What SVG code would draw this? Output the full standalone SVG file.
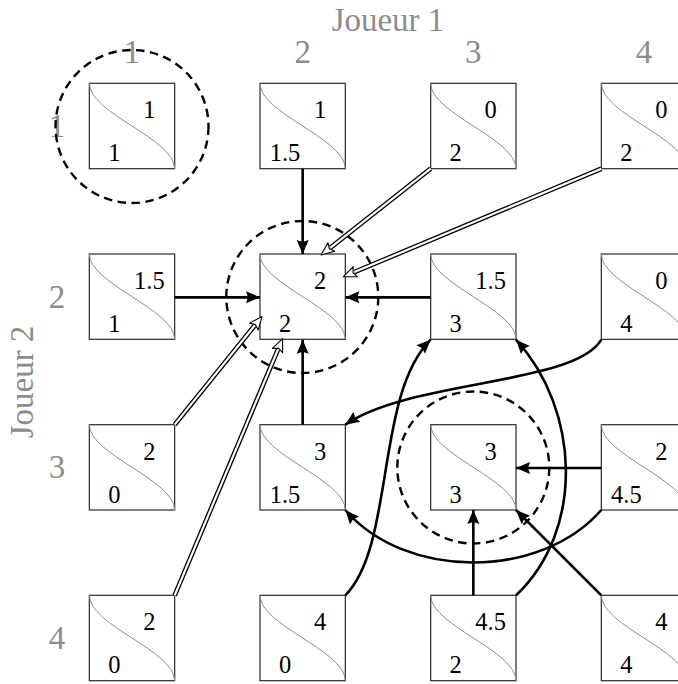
<svg xmlns="http://www.w3.org/2000/svg" xmlns:xlink="http://www.w3.org/1999/xlink" width="678" height="684" viewBox="0 0 678 684">
<style>
.box{fill:#fff;stroke:#3a3a3a;stroke-width:1.3}
.crv{fill:none;stroke:#8c8c8c;stroke-width:1}
text{font-family:'Liberation Serif','DejaVu Serif','Noto Serif',serif}
.pay{font-size:24.5px;fill:#000;text-anchor:middle}
.lbl{font-size:33px;fill:#8c8c8c;text-anchor:middle}
.arr{fill:none;stroke:#000;stroke-width:2.6;marker-end:url(#ah)}
.dblo{fill:none;stroke:#000;stroke-width:4.8}
.dbli{fill:none;stroke:#fff;stroke-width:2.2;marker-end:url(#hh)}
.ring{fill:none;stroke:#000;stroke-width:2.4;stroke-dasharray:8.5 5.5}
</style>
<defs>
<marker id="ah" markerUnits="userSpaceOnUse" markerWidth="18" markerHeight="14" refX="14" refY="6.5" orient="auto" overflow="visible">
<path d="M0,0.5 L14,6.5 L0,12.5 L2,6.5 Z" fill="#000"/>
</marker>
<marker id="hh" markerUnits="userSpaceOnUse" markerWidth="16" markerHeight="14" refX="1" refY="6.5" orient="auto" overflow="visible">
<path d="M0,1 L13,6.5 L0,12 L2.5,6.5 Z" fill="#fff" stroke="#000" stroke-width="1.1" stroke-linejoin="round"/>
</marker>
<g id="cell">
<rect class="box" x="0" y="0" width="85.33" height="85.33"/>
<path class="crv" d="M0,0 C0,30 85.33,55.33 85.33,85.33"/>
</g>
</defs>

<g id="labels" font-family="Liberation Serif, DejaVu Serif, serif">
<text class="lbl" x="388" y="30.5">Joueur 1</text>
<text class="lbl" x="132" y="62.5">1</text>
<text class="lbl" x="302.7" y="62.5">2</text>
<text class="lbl" x="473.3" y="62.5">3</text>
<text class="lbl" x="644" y="62.5">4</text>
<text class="lbl" x="57" y="136.5">1</text>
<text class="lbl" x="57" y="307.5">2</text>
<text class="lbl" x="57" y="478">3</text>
<text class="lbl" x="57" y="648.5">4</text>
<text class="lbl" transform="translate(33,382) rotate(-90)">Joueur 2</text>
</g>

<g id="nodes" font-family="Liberation Serif, DejaVu Serif, serif">
<g id="n11" transform="translate(89.33,83.33)"><use xlink:href="#cell"/><text class="pay" x="60" y="35">1</text><text class="pay" x="25" y="78">1</text></g>
<g id="n12" transform="translate(260,83.33)"><use xlink:href="#cell"/><text class="pay" x="60" y="35">1</text><text class="pay" x="25" y="78">1.5</text></g>
<g id="n13" transform="translate(430.67,83.33)"><use xlink:href="#cell"/><text class="pay" x="60" y="35">0</text><text class="pay" x="25" y="78">2</text></g>
<g id="n14" transform="translate(601.33,83.33)"><use xlink:href="#cell"/><text class="pay" x="60" y="35">0</text><text class="pay" x="25" y="78">2</text></g>

<g id="n21" transform="translate(89.33,254)"><use xlink:href="#cell"/><text class="pay" x="60" y="35">1.5</text><text class="pay" x="25" y="78">1</text></g>
<g id="n22" transform="translate(260,254)"><use xlink:href="#cell"/><text class="pay" x="60" y="35">2</text><text class="pay" x="25" y="78">2</text></g>
<g id="n23" transform="translate(430.67,254)"><use xlink:href="#cell"/><text class="pay" x="60" y="35">1.5</text><text class="pay" x="25" y="78">3</text></g>
<g id="n24" transform="translate(601.33,254)"><use xlink:href="#cell"/><text class="pay" x="60" y="35">0</text><text class="pay" x="25" y="78">4</text></g>

<g id="n31" transform="translate(89.33,424.67)"><use xlink:href="#cell"/><text class="pay" x="60" y="35">2</text><text class="pay" x="25" y="78">0</text></g>
<g id="n32" transform="translate(260,424.67)"><use xlink:href="#cell"/><text class="pay" x="60" y="35">3</text><text class="pay" x="25" y="78">1.5</text></g>
<g id="n33" transform="translate(430.67,424.67)"><use xlink:href="#cell"/><text class="pay" x="60" y="35">3</text><text class="pay" x="25" y="78">3</text></g>
<g id="n34" transform="translate(601.33,424.67)"><use xlink:href="#cell"/><text class="pay" x="60" y="35">2</text><text class="pay" x="25" y="78">4.5</text></g>

<g id="n41" transform="translate(89.33,595.33)"><use xlink:href="#cell"/><text class="pay" x="60" y="35">2</text><text class="pay" x="25" y="78">0</text></g>
<g id="n42" transform="translate(260,595.33)"><use xlink:href="#cell"/><text class="pay" x="60" y="35">4</text><text class="pay" x="25" y="78">0</text></g>
<g id="n43" transform="translate(430.67,595.33)"><use xlink:href="#cell"/><text class="pay" x="60" y="35">4.5</text><text class="pay" x="25" y="78">2</text></g>
<g id="n44" transform="translate(601.33,595.33)"><use xlink:href="#cell"/><text class="pay" x="60" y="35">4</text><text class="pay" x="25" y="78">4</text></g>
</g>

<g id="equilibria">
<circle class="ring" cx="132" cy="126.5" r="76.5"/>
<circle class="ring" cx="302.3" cy="297" r="76"/>
<circle class="ring" cx="473.3" cy="467.5" r="76"/>
</g>

<g id="connectors">
<path class="arr" d="M302.67,168.67 L302.67,254"/>
<path class="arr" d="M174.67,297.33 L260,297.33"/>
<path class="arr" d="M430.67,297.33 L345.33,297.33"/>
<path class="arr" d="M302.67,424.67 L302.67,339.67"/>
<path class="arr" d="M601.33,468 L516,468"/>
<path class="arr" d="M473.33,595.33 L473.33,510"/>
<path class="arr" d="M601.33,595.33 L516,510"/>
<path class="arr" d="M601.33,339.67 C575,385 410,380 345.33,424.67"/>
<path class="arr" d="M601.33,510 C540,580 406,580 345.33,510"/>
<path class="arr" d="M345.33,595.33 C395,545 375,395 430.67,339.67"/>
<path class="arr" d="M516,595.33 C585,530 580,410 516,339.67"/>

<path class="dblo" d="M430.67,168.67 L330.5,247.6"/>
<path class="dbli" d="M430.67,168.67 L330.5,247.6"/>
<path class="dblo" d="M601.33,168.67 L354.4,272.1"/>
<path class="dbli" d="M601.33,168.67 L354.4,272.1"/>
<path class="dblo" d="M174.67,424.67 L254.5,325.8"/>
<path class="dbli" d="M174.67,424.67 L254.5,325.8"/>
<path class="dblo" d="M174.67,595.33 L277.9,349.6"/>
<path class="dbli" d="M174.67,595.33 L277.9,349.6"/>
</g>
</svg>
